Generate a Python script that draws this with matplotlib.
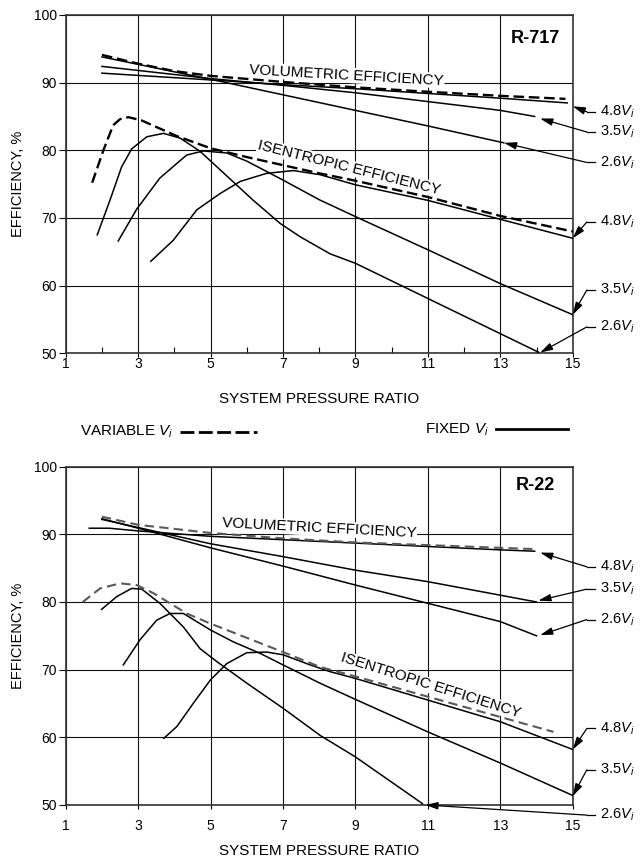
import matplotlib.pyplot as plt
from matplotlib.lines import Line2D

plt.rcParams['font.family'] = ['Liberation Sans', 'DejaVu Sans']
plt.rcParams['mathtext.fontset'] = 'custom'
plt.rcParams['mathtext.rm'] = 'Liberation Sans'
plt.rcParams['mathtext.it'] = 'Liberation Sans:italic'

# ---------------- R-717 ----------------
# volumetric efficiency
x_vol_var_717 = [2, 3, 4, 5, 7, 9, 11, 13, 14.8]
y_vol_var_717 = [94.1, 92.8, 91.7, 91.0, 90.1, 89.3, 88.65, 88.05, 87.6]
x_vol_26_717 = [2, 5, 7, 9, 11, 13.1]
y_vol_26_717 = [93.8, 90.5, 88.2, 85.9, 83.6, 81.1]
x_vol_35_717 = [2, 5, 7, 9, 11, 13, 13.95]
y_vol_35_717 = [92.4, 90.6, 89.6, 88.5, 87.2, 85.9, 85.0]
x_vol_48_717 = [2, 5, 7, 9, 11, 13, 14.85]
y_vol_48_717 = [91.4, 90.4, 89.7, 89.1, 88.4, 87.7, 87.0]

# isentropic efficiency
x_ise_var_717 = [1.73, 2.04, 2.31, 2.5, 2.73, 3.1, 4.07, 5.0, 6.0, 7.0, 8.0, 9, 11, 13, 15]
y_ise_var_717 = [75.2, 80.0, 83.7, 84.6, 84.9, 84.4, 82.1, 80.3, 79.0, 77.8, 76.6, 75.5, 73.1, 70.3, 68.0]
x_ise_26_717 = [1.87, 2.22, 2.54, 2.82, 3.24, 3.7, 4.16, 4.71, 5.45, 6.18, 6.92, 7.48, 8.3, 9, 11, 13, 14.06]
y_ise_26_717 = [67.5, 72.6, 77.5, 80.2, 82.0, 82.5, 81.8, 79.85, 76.2, 72.6, 69.2, 67.2, 64.7, 63.3, 58.1, 52.9, 50.15]
x_ise_35_717 = [2.45, 2.96, 3.6, 4.34, 4.8, 5.45, 6.0, 6.5, 7.0, 8.0, 9, 11, 13, 15]
y_ise_35_717 = [66.6, 71.3, 75.9, 79.3, 79.9, 79.6, 78.4, 77.0, 75.6, 72.7, 70.2, 65.3, 60.3, 55.7]
x_ise_48_717 = [3.35, 3.97, 4.62, 5.26, 5.82, 6.55, 7.29, 8.02, 9, 11, 13, 15]
y_ise_48_717 = [63.6, 66.7, 71.2, 73.6, 75.4, 76.6, 77.0, 76.4, 74.9, 72.6, 69.8, 67.0]

# ---------------- R-22 ----------------
x_vol_var_22 = [2, 3, 5, 7, 9, 11, 13, 14.0]
y_vol_var_22 = [92.6, 91.4, 90.2, 89.4, 88.8, 88.4, 88.0, 87.8]
x_vol_48_22 = [1.65, 2.2, 3, 5, 7, 9, 11, 13, 13.95]
y_vol_48_22 = [90.9, 90.9, 90.5, 89.7, 89.2, 88.7, 88.2, 87.7, 87.5]
x_vol_35_22 = [2, 3, 5, 7, 9, 11, 13, 14.0]
y_vol_35_22 = [92.2, 91.0, 88.6, 86.7, 84.7, 83.0, 81.0, 80.0]
x_vol_26_22 = [2, 3, 5, 7, 9, 11, 13, 14.0]
y_vol_26_22 = [92.3, 90.9, 88.0, 85.3, 82.5, 79.8, 77.1, 75.0]

x_ise_var_22 = [1.47, 1.95, 2.5, 2.96, 3.42, 4.34, 5, 7, 8.02, 9, 11, 13, 14.47]
y_ise_var_22 = [80.0, 82.0, 82.75, 82.5, 81.3, 78.3, 76.8, 72.6, 70.4, 69.0, 66.0, 63.0, 60.8]
x_ise_48_22 = [3.71, 4.07, 4.52, 5.0, 5.45, 6.0, 6.55, 7.0, 7.75, 8.3, 9, 11, 13, 15]
y_ise_48_22 = [59.85, 61.6, 65.0, 68.5, 70.9, 72.5, 72.6, 72.2, 70.7, 69.7, 68.7, 65.5, 62.3, 58.2]
x_ise_35_22 = [2.59, 3.05, 3.51, 3.88, 4.25, 4.71, 5.0, 5.63, 6.37, 7.0, 8.02, 9, 11, 13, 15]
y_ise_35_22 = [70.7, 74.4, 77.3, 78.3, 78.3, 76.8, 75.85, 74.1, 72.4, 70.7, 68.0, 65.6, 60.8, 56.2, 51.4]
x_ise_26_22 = [1.99, 2.41, 2.82, 3.1, 3.6, 4.25, 4.71, 5.17, 6.0, 7.0, 8.02, 9, 10.85]
y_ise_26_22 = [78.9, 80.8, 82.0, 81.9, 79.8, 76.3, 73.1, 71.2, 68.0, 64.3, 60.3, 57.1, 50.2]

# Vi callouts: (label, arrow tip, label height)
callouts_717 = [('4.8', (15.0, 86.5), 85.7), ('3.5', (14.1, 84.7), 82.7),
                ('2.6', (13.1, 81.1), 78.2), ('4.8', (15.0, 67.0), 69.4),
                ('3.5', (15.0, 55.7), 59.35), ('2.6', (14.1, 50.1), 53.9)]
callouts_22 = [('4.8', (14.1, 87.3), 85.2), ('3.5', (14.05, 80.2), 81.9),
               ('2.6', (14.1, 75.1), 77.4), ('4.8', (15.0, 58.2), 61.3),
               ('3.5', (15.0, 51.3), 55.2), ('2.6', (10.93, 50.0), 48.5)]

fig = plt.figure(figsize=(6.43, 8.60), dpi=100)
ax1 = fig.add_axes([0.1022, 0.5892, 0.7885, 0.3934])
ax2 = fig.add_axes([0.1022, 0.0640, 0.7885, 0.3934])


def setup(ax, minor, xpad):
    ax.set_xlim(1, 15)
    ax.set_ylim(50, 100)
    ax.set_xticks(range(1, 16, 2))
    ax.set_yticks(range(50, 101, 10))
    ax.grid(True, color='#111111', lw=0.8)
    ax.set_axisbelow(True)
    for s in ax.spines.values():
        s.set_linewidth(1.2)
        s.set_color('#333333')
    ax.tick_params(axis='x', which='major', direction='out', length=3, width=0.8,
                   pad=xpad, labelsize=10)
    ax.tick_params(axis='y', direction='out', length=5, width=0.8, pad=1.5, labelsize=10)
    if minor:
        ax.set_xticks(range(2, 15, 2), minor=True)
        ax.tick_params(axis='x', which='minor', direction='in', length=4, width=0.8)


def callouts(ax, items):
    for lab, tip, ly in items:
        ax.plot([15.39, 15.62], [ly, ly], color='black', lw=0.9, clip_on=False)
        ax.annotate('', xy=tip, xytext=(15.39, ly), annotation_clip=False,
                    arrowprops=dict(arrowstyle='-|>,head_length=0.75,head_width=0.22',
                                    color='black', lw=0.9, shrinkA=0, shrinkB=0,
                                    mutation_scale=10))
        ax.text(15.74, ly, lab + '$V_i$', ha='left', va='center', fontsize=10.5,
                clip_on=False)


box = dict(facecolor='white', edgecolor='none', pad=0.5)

# top panel
setup(ax1, True, 0)
kw = dict(color='black', lw=1.1, zorder=3)
dkw = dict(color='black', lw=1.7, dashes=(4.5, 2), zorder=3)
ax1.plot(x_vol_var_717, y_vol_var_717, **dkw)
ax1.plot(x_vol_26_717, y_vol_26_717, **kw)
ax1.plot(x_vol_35_717, y_vol_35_717, **kw)
ax1.plot(x_vol_48_717, y_vol_48_717, **kw)
ax1.plot(x_ise_var_717, y_ise_var_717, **dkw)
ax1.plot(x_ise_26_717, y_ise_26_717, **kw)
ax1.plot(x_ise_35_717, y_ise_35_717, **kw)
ax1.plot(x_ise_48_717, y_ise_48_717, **kw)
ax1.text(8.76, 91.1, 'VOLUMETRIC EFFICIENCY', rotation=-3.3, rotation_mode='anchor',
         ha='center', va='center', fontsize=11, bbox=box, zorder=2.5)
ax1.text(8.83, 77.4, 'ISENTROPIC EFFICIENCY', rotation=-14, rotation_mode='anchor',
         ha='center', va='center', fontsize=11, bbox=box, zorder=2.5)
ax1.text(0.975, 0.931, 'R-717', transform=ax1.transAxes, ha='right', va='center',
         fontsize=13, fontweight='bold')
callouts(ax1, callouts_717)

# bottom panel
setup(ax2, False, 7)
gkw = dict(color='0.35', lw=1.5, dashes=(4.5, 2.5), zorder=3)
ax2.plot(x_vol_48_22, y_vol_48_22, **kw)
ax2.plot(x_vol_35_22, y_vol_35_22, **kw)
ax2.plot(x_vol_26_22, y_vol_26_22, **kw)
ax2.plot(x_vol_var_22, y_vol_var_22, **gkw)
ax2.plot(x_ise_48_22, y_ise_48_22, **kw)
ax2.plot(x_ise_35_22, y_ise_35_22, **kw)
ax2.plot(x_ise_26_22, y_ise_26_22, **kw)
ax2.plot(x_ise_var_22, y_ise_var_22, **gkw)
ax2.text(8.0, 90.9, 'VOLUMETRIC EFFICIENCY', rotation=-3, rotation_mode='anchor',
         ha='center', va='center', fontsize=11, bbox=box, zorder=2.5)
ax2.text(11.09, 67.6, 'ISENTROPIC EFFICIENCY', rotation=-17.5, rotation_mode='anchor',
         ha='center', va='center', fontsize=11, bbox=box, zorder=2.5)
ax2.text(0.965, 0.943, 'R-22', transform=ax2.transAxes, ha='right', va='center',
         fontsize=13, fontweight='bold')
callouts(ax2, callouts_22)

# axis titles
for yb, yc in [(403, 184), (855, 636)]:
    fig.text(319 / 643, 1 - yb / 860, 'SYSTEM PRESSURE RATIO', ha='center',
             va='baseline', fontsize=11)
    fig.text(18 / 643, 1 - yc / 860, 'EFFICIENCY, %', rotation=90, ha='center',
             va='center', fontsize=10.5)

# key between the panels
fig.text(80 / 643, 1 - 432 / 860, 'VARIABLE $V_i$', ha='left', va='center', fontsize=11)
fig.add_artist(Line2D([180 / 643, 257 / 643], [1 - 432 / 860] * 2, color='black',
                      lw=2, dashes=(5, 1.6)))
fig.text(425 / 643, 1 - 430 / 860, 'FIXED $V_i$', ha='left', va='center', fontsize=11)
fig.add_artist(Line2D([496 / 643, 568 / 643], [1 - 429 / 860] * 2, color='black', lw=2))

fig.savefig('out.png', dpi=100)
